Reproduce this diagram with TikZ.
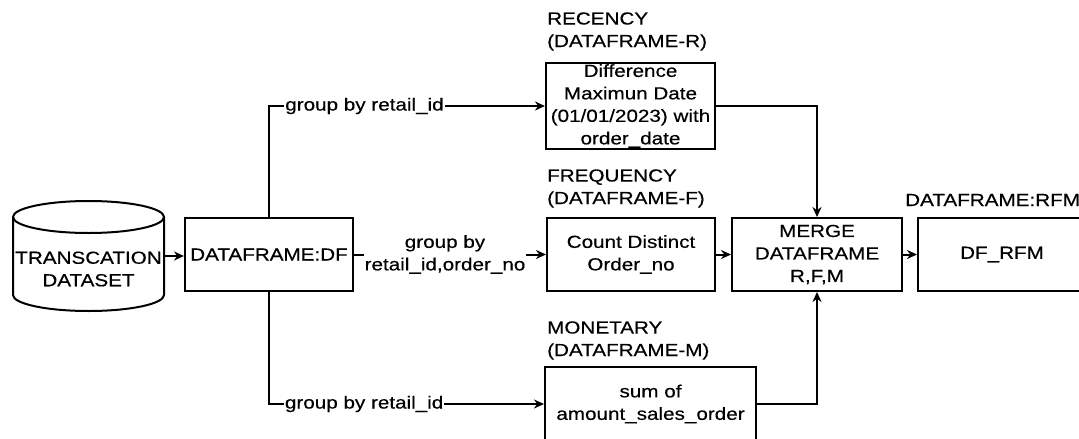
\documentclass[tikz,border=0pt]{standalone}
\usepackage{fontspec}
\setmainfont{Liberation Sans}[FakeStretch=1.18, FakeBold=0.4]
\usetikzlibrary{arrows.meta}
\begin{document}
\begin{tikzpicture}[x=1pt,y=-1pt,
  every node/.style={font=\fontsize{17.5}{22.5}\selectfont, inner sep=0pt},
  box/.style={draw, line width=2pt, minimum height=73pt, align=center},
  lbl/.style={fill=white, align=center, inner xsep=1pt, inner ysep=1pt},
  ttl/.style={anchor=west, align=left},
  conn/.style={line width=2pt, -{Stealth[length=10pt,width=9pt]}},
  plain/.style={line width=2pt}]
\useasboundingbox (0,0) rectangle (1079,439);
% cylinder
\node (cyl) at (88.5,256) [minimum width=151pt, minimum height=110pt] {};
\draw[plain] (88.5,217) ellipse [x radius=75.5pt, y radius=16pt];
\draw[plain] (13,217) -- (13,295) arc[start angle=180, end angle=360, x radius=75.5pt, y radius=16pt] -- (164,217);
\node[align=center] (cyltext) at (88.5,269) {TRANSCATION\\DATASET};
% boxes
\node[box, minimum width=168pt] (df) at (269,254.5) {DATAFRAME:DF};
\node[box, minimum width=169pt, minimum height=86pt] (rec) at (630.5,106) {Difference\\Maximun Date\\(01/01/2023) with\\order\_date};
\node[box, minimum width=168pt] (freq) at (631,254.5) {Count Distinct\\Order\_no};
\node[box, minimum width=170pt] (merge) at (817,254.5) {MERGE\\DATAFRAME\\R,F,M};
\node[box, minimum width=168pt] (rfm) at (1002,254.5) {DF\_RFM};
\node[box, minimum width=211pt, minimum height=75pt] (mon) at (650.5,404) {sum of\\amount\_sales\_order};
% titles
\node[ttl] (rect) at (547,31.5) {RECENCY\\(DATAFRAME-R)};
\node[ttl] (freqt) at (547,188.5) {FREQUENCY\\(DATAFRAME-F)};
\node[ttl] (mont) at (547,340.5) {MONETARY\\(DATAFRAME-M)};
\node[ttl] (rfmt) at (905,200) {DATAFRAME:RFM};
% connectors
\draw[conn] (cyl.east) -- (cyl.east -| df.west);
\draw[conn] (df.north) |- (rec.west) node[lbl, pos=0.673] {group by retail\_id};
\draw[conn] (df.south) |- (mon.west) node[lbl, pos=0.673] {group by retail\_id};
\draw[conn] (df.east) -- (freq.west) node[lbl, pos=0.474] {group by\\retail\_id,order\_no};
\draw[conn] (rec.east) -| (merge.north);
\draw[conn] (freq.east) -- (merge.west);
\draw[conn] (mon.east) -| (merge.south);
\draw[conn] (merge.east) -- (rfm.west);
\end{tikzpicture}
\end{document}
